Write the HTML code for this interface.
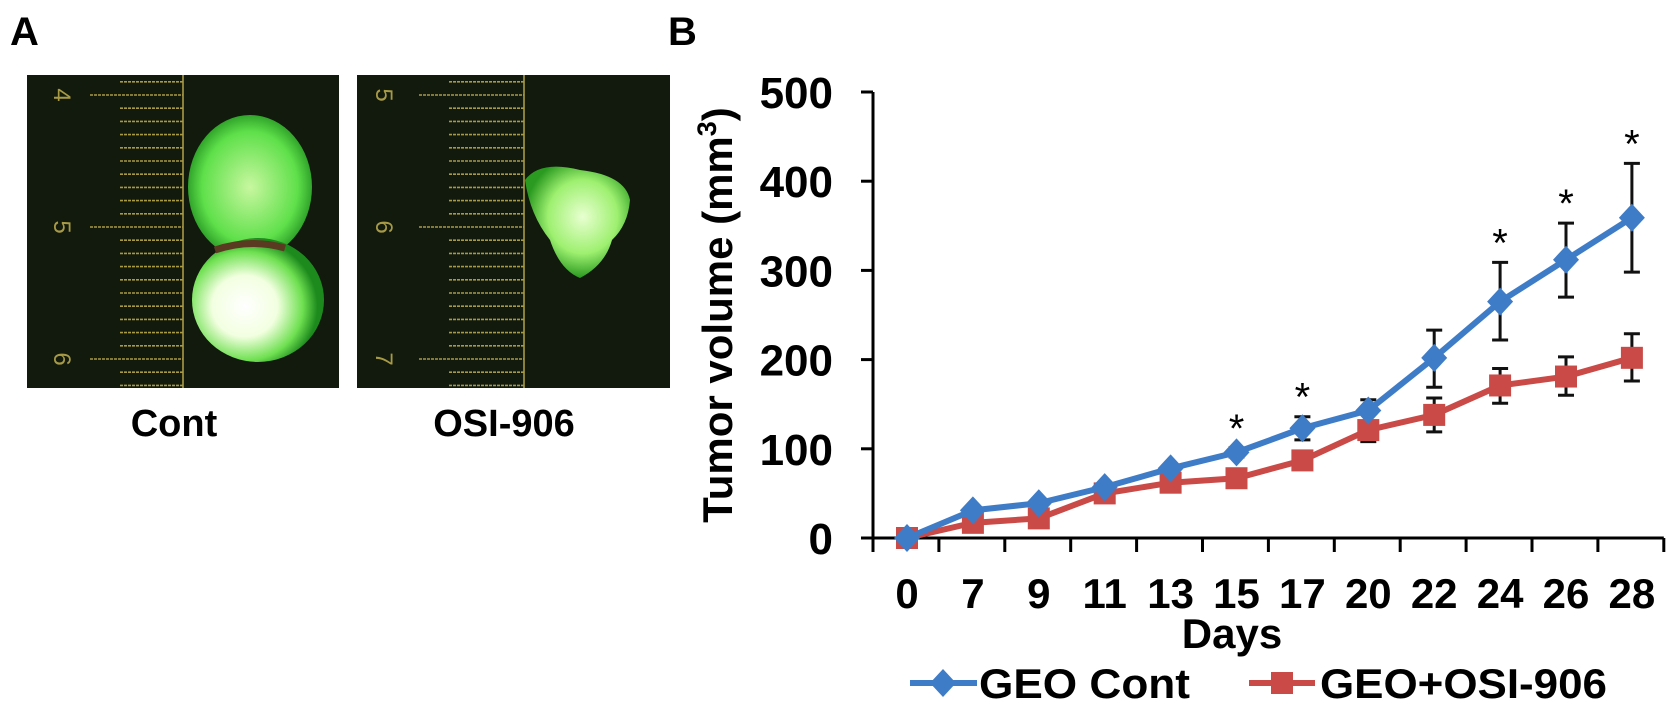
<!DOCTYPE html>
<html><head><meta charset="utf-8"><style>
html,body{margin:0;padding:0;background:#fff;}
svg{display:block;font-family:"Liberation Sans",Arial,sans-serif;font-weight:bold;}
</style></head><body>
<svg id="fig" width="1677" height="712" viewBox="0 0 1677 712">
<defs>
<radialGradient id="g1" cx="50%" cy="50%" r="55%"><stop offset="0" stop-color="#c8f7a0"/><stop offset="0.7" stop-color="#5fe04a"/><stop offset="1" stop-color="#1d8a1d"/></radialGradient>
<radialGradient id="g2" cx="40%" cy="55%" r="55%"><stop offset="0" stop-color="#ffffff"/><stop offset="0.45" stop-color="#f2ffe0"/><stop offset="0.8" stop-color="#6ee050"/><stop offset="1" stop-color="#1d8a1d"/></radialGradient>
<radialGradient id="g3" cx="55%" cy="45%" r="55%"><stop offset="0" stop-color="#e8ffd0"/><stop offset="0.6" stop-color="#9ef070"/><stop offset="1" stop-color="#2a9a20"/></radialGradient>
</defs>
<text x="10" y="45" font-size="40">A</text>
<text x="668" y="45" font-size="40">B</text>
<g>
<rect x="27" y="75" width="312" height="313" fill="#111a0c"/>
<g id="ruler1" stroke="#a89a45" stroke-width="1.6"></g>
<ellipse cx="250" cy="187" rx="62" ry="72" fill="url(#g1)"/>
<ellipse cx="258" cy="300" rx="66" ry="62" fill="url(#g2)"/>
<path d="M215 250 Q250 238 285 248" stroke="#5a3a20" stroke-width="7" fill="none"/>
</g>
<g>
<rect x="357" y="75" width="313" height="313" fill="#111a0c"/>
<g id="ruler2" stroke="#a89a45" stroke-width="1.6"></g>
<path d="M525 180 Q540 160 580 170 Q625 175 630 200 Q628 225 612 240 Q605 265 580 278 Q560 270 550 240 Q530 215 525 180 Z" fill="url(#g3)"/>
</g>
<text x="174" y="436" font-size="38" text-anchor="middle">Cont</text>
<text x="504" y="436" font-size="38" text-anchor="middle">OSI-906</text>
<g id="chart"></g>
</svg>
<script>
const days = ["0","7","9","11","13","15","17","20","22","24","26","28"];
const contValues = [0,31,39,57,78,96,123,143,202,265,312,359];
const contErrUp = [0,0,0,0,3,5,13,12,31,44,41,61];
const contErrDown = [0,0,0,0,3,5,13,13,33,43,42,61];
const osiValues = [0,17,22,50,62,67,87,121,138,171,181,202];
const osiErrUp = [0,0,0,0,0,0,0,0,19,19,22,27];
const osiErrDown = [0,0,0,0,0,0,0,13,19,20,21,26];
const starFlags = [0,0,0,0,0,1,1,0,0,1,1,1];
const yTicks = [0,100,200,300,400,500];

const NS="http://www.w3.org/2000/svg";
function mk(tag,attrs,parent){const e=document.createElementNS(NS,tag);for(const k in attrs)e.setAttribute(k,attrs[k]);parent.appendChild(e);return e;}

function ruler(id,lineX,tickX,numX,labels){
  const g=document.getElementById(id);
  mk('line',{x1:lineX,y1:75,x2:lineX,y2:388},g);
  for(let i=-1;i<24;i++){const y=95+i*13.2;if(y<78||y>386)continue;
    const major=(i%10===0);
    mk('line',{x1:major?tickX-30:tickX,y1:y,x2:lineX,y2:y,'stroke-dasharray':'3 1'},g);}
  labels.forEach((l,i)=>{const t=mk('text',{x:numX,y:95+i*132+8,'font-size':'24',fill:'#a89a45',stroke:'none','font-weight':'normal',transform:`rotate(90 ${numX} ${95+i*132})`,'text-anchor':'middle'},g);t.textContent=l;});
}
ruler('ruler1',183,120,62,["4","5","6"]);
ruler('ruler2',524,449,384,["5","6","7"]);

const chart=document.getElementById('chart');
const X0=873, XSTEP=65.9, Y0=538, YSCALE=89.2/100;
const xPos=i=>X0+34+i*XSTEP;
const yPos=v=>Y0-v*YSCALE;

let ax=mk('line',{x1:X0,y1:yPos(500),x2:X0,y2:Y0+2,stroke:'#000','stroke-width':3},chart);

let bx=mk('line',{x1:X0-12,y1:Y0,x2:X0+12*XSTEP,y2:Y0,stroke:'#000','stroke-width':3},chart);

yTicks.forEach(v=>{
  const l=mk('line',{x1:X0-12,y1:yPos(v),x2:X0,y2:yPos(v),stroke:'#000','stroke-width':3},chart);
  
  const t=mk('text',{x:833,y:yPos(v)+16,'font-size':'44','text-anchor':'end'},chart);t.textContent=v;
  
});
for(let i=0;i<=12;i++){
  const l=mk('line',{x1:X0+i*XSTEP,y1:Y0,x2:X0+i*XSTEP,y2:Y0+14,stroke:'#000','stroke-width':3},chart);
  
}
days.forEach((d,i)=>{
  const t=mk('text',{x:xPos(i),y:608,'font-size':'42','text-anchor':'middle'},chart);t.textContent=d;
  
});
let xt=mk('text',{x:1232,y:648,'font-size':'42','text-anchor':'middle'},chart);xt.textContent='Days';

let yt=mk('text',{x:0,y:0,'font-size':'42','text-anchor':'middle',transform:'translate(732 315) rotate(-90)'},chart);
yt.innerHTML='Tumor volume (mm<tspan dy="-16" font-size="27">3</tspan><tspan dy="16">)</tspan>';


function errbars(vals,up,down){
  vals.forEach((v,i)=>{
    if(up[i]>0){const y=yPos(v+up[i]);
      let e=mk('path',{d:`M${xPos(i)} ${yPos(v)} V${y} M${xPos(i)-8} ${y} H${xPos(i)+8}`,stroke:'#111','stroke-width':3,fill:'none'},chart);
      }
    if(down[i]>0){const y=yPos(v-down[i]);
      let e=mk('path',{d:`M${xPos(i)} ${yPos(v)} V${y} M${xPos(i)-8} ${y} H${xPos(i)+8}`,stroke:'#111','stroke-width':3,fill:'none'},chart);
      }
  });
}
errbars(contValues,contErrUp,contErrDown);
errbars(osiValues,osiErrUp,osiErrDown);

function series(vals,color,shape,name){
  const pl=mk('polyline',{points:vals.map((v,i)=>xPos(i)+','+yPos(v)).join(' '),fill:'none',stroke:color,'stroke-width':6},chart);
  
  vals.forEach((v,i)=>{
    const x=xPos(i),y=yPos(v);let m;
    if(shape==='d') m=mk('path',{d:`M${x} ${y-14} L${x+13} ${y} L${x} ${y+14} L${x-13} ${y} Z`,fill:color},chart);
    else m=mk('rect',{x:x-11,y:y-11,width:22,height:22,fill:color},chart);
    
  });
}
series(osiValues,'#c94a47','s','geo-osi');
series(contValues,'#3f7cc7','d','geo-cont');

starFlags.forEach((f,i)=>{
  if(!f)return;
  const t=mk('text',{x:xPos(i),y:yPos(contValues[i]+contErrUp[i])-6,'font-size':'40','text-anchor':'middle','font-weight':'normal'},chart);
  t.textContent='*';
  
});

let lg=mk('g',{},chart);

mk('line',{x1:910,y1:683,x2:977,y2:683,stroke:'#3f7cc7','stroke-width':6},lg);
mk('path',{d:'M943 669 L956 683 L943 697 L930 683 Z',fill:'#3f7cc7'},lg);
let l1=mk('text',{x:979,y:698,'font-size':'42',textLength:'211',lengthAdjust:'spacingAndGlyphs'},lg);l1.textContent='GEO Cont';

mk('line',{x1:1249,y1:683,x2:1315,y2:683,stroke:'#c94a47','stroke-width':6},lg);
mk('rect',{x:1271,y:672,width:22,height:22,fill:'#c94a47'},lg);
let l2=mk('text',{x:1320,y:698,'font-size':'42',textLength:'287',lengthAdjust:'spacingAndGlyphs'},lg);l2.textContent='GEO+OSI-906';

</script>
</body></html>
